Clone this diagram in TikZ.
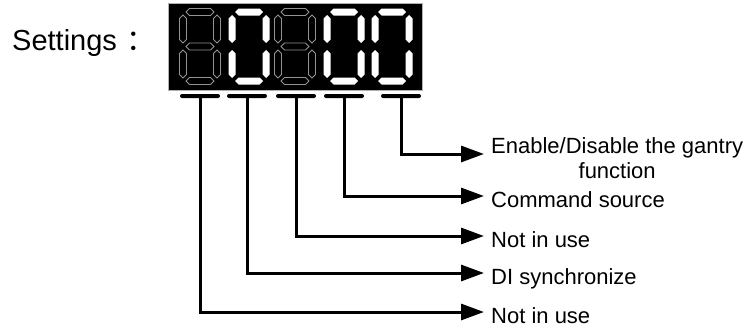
\documentclass[tikz,border=0pt]{standalone}
\usepackage{fontspec}
\setmainfont{Liberation Sans}
\newfontfamily\cjk{Noto Sans CJK SC}
\usetikzlibrary{arrows.meta}

% one segment of the display, centred at #2
\newcommand{\hseg}[2]{\path[#1] (#2) ++(-14,0) -- ++(3.5,-3.5) -- ++(21,0) -- ++(3.5,3.5) -- ++(-3.5,3.5) -- ++(-21,0) -- cycle;}
\newcommand{\vseg}[2]{\path[#1] (#2) ++(0,-14) -- ++(3.5,3.5) -- ++(0,21) -- ++(-3.5,3.5) -- ++(-3.5,-3.5) -- ++(0,-21) -- cycle;}
\def\segeight{h/21/4,h/21/38.5,h/21/73,v/4/21,v/38/21,v/4/56,v/38/56}
\def\segzero{h/21/4,h/21/73,v/4/21,v/38/21,v/4/56,v/38/56}
\newcommand{\digitat}[3]{%
  \begin{scope}[shift={(#1,8)}]
    \foreach \t/\cx/\cy in #3 {\if h\t \hseg{#2}{\cx,\cy}\else \vseg{#2}{\cx,\cy}\fi}
  \end{scope}}

\begin{document}
\begin{tikzpicture}[x=1pt,y=-1pt,>={Triangle[length=23pt,width=16pt]},
    unlit/.style={draw=gray!85, line width=0.8pt},
    lit/.style={fill=white},
    bar/.style={fill=black, rounded corners=2pt, minimum width=40pt, minimum height=4pt, inner sep=0pt},
    conn/.style={->, line width=3pt},
    lbl/.style={anchor=base west, inner sep=0pt, xshift=7pt, yshift=-11pt, font=\fontsize{22}{25}\selectfont}]
    \useasboundingbox (0,0) rectangle (754,327);
    \node[anchor=base west, inner sep=0pt, font=\fontsize{29}{34}\selectfont] (title) at (12,50) {Settings\hspace{10pt}{\cjk ：}};
    % display
    \node[fill=black, draw=gray!60, line width=0.6pt, anchor=north west, minimum width=254pt, minimum height=87pt, inner sep=0pt] (disp) at (168,3) {};
    \digitat{179}{unlit}{\segeight}
    \digitat{228}{lit}{\segzero}
    \digitat{274}{unlit}{\segeight}
    \digitat{323}{lit}{\segzero}
    \digitat{371}{lit}{\segzero}
    % bars under the digits
    \node[bar] (b1) at (200,96) {};
    \node[bar] (b2) at (247,96) {};
    \node[bar] (b3) at (296,96) {};
    \node[bar] (b4) at (344,96) {};
    \node[bar] (b5) at (401,96) {};
    % arrow ends
    \coordinate (t1) at (484,312);
    \coordinate (t2) at (484,273);
    \coordinate (t3) at (484,236);
    \coordinate (t4) at (484,196);
    \coordinate (t5) at (484,154);
    \node[lbl] (l1) at (t1) {Not in use};
    \node[lbl] (l2) at (t2) {DI synchronize};
    \node[lbl] (l3) at (t3) {Not in use};
    \node[lbl] (l4) at (t4) {Command source};
    \node[lbl, anchor=north west, align=center, yshift=28pt] (l5) at (t5) {Enable/Disable the gantry\\function};
    \draw[conn] (b1.south) |- (t1);
    \draw[conn] (b2.south) |- (t2);
    \draw[conn] (b3.south) |- (t3);
    \draw[conn] (b4.south) |- (t4);
    \draw[conn] (b5.south) |- (t5);
\end{tikzpicture}
\end{document}
